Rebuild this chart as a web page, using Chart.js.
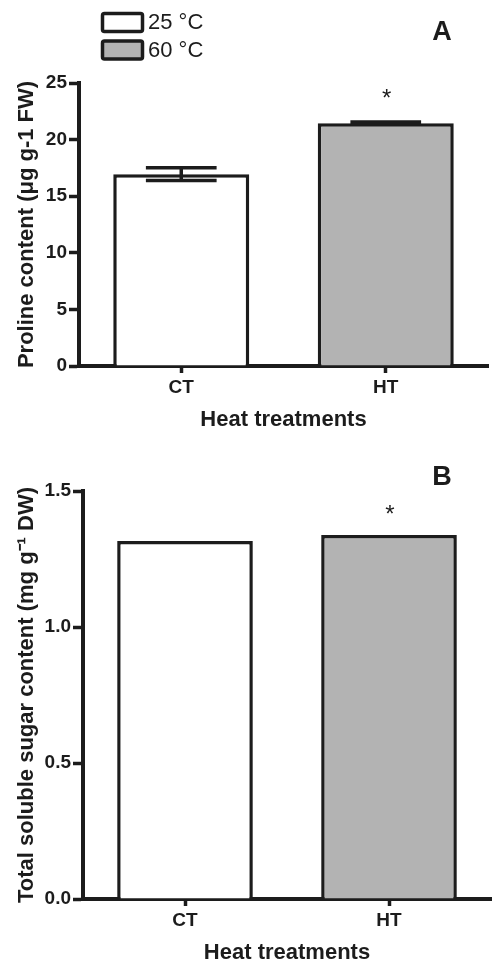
<!DOCTYPE html>
<html>
<head>
<meta charset="utf-8">
<script src="https://cdn.jsdelivr.net/npm/chart.js@4.4.0/dist/chart.umd.min.js"></script>
<style>
  body { margin: 0; background: #fff; }
  canvas { display: block; }
</style>
</head>
<body>
<canvas id="chartA" width="492" height="440"></canvas>
<canvas id="chartB" width="492" height="524"></canvas>
<script>
// Data

const categories = ['CT', 'HT'];
const legendLabels = ['25 °C', '60 °C'];
const panelLetters = ['A', 'B'];
const significance = ['', '*'];

const prolineValues = [16.95, 21.45];
const prolineErrors = [0.57, 0.1];
const prolineTicks = [0, 5, 10, 15, 20, 25];

const sugarValues = [1.316, 1.338];
const sugarErrors = [0, 0];
const sugarTicks = [0, 0.5, 1.0, 1.5];

const xTitle = 'Heat treatments';
const prolineTitle = 'Proline content (μg g-1 FW)';
const sugarTitle = 'Total soluble sugar content (mg g⁻¹ DW)';

// Style

const INK = '#1c1c1c';
const GREY = '#b3b3b3';
const FONT = '"Liberation Sans", Arial, sans-serif';
const barColors = ['#ffffff', GREY];

// Error bars, asterisks, panel letter and legend

const extrasPlugin = {
  id: 'extras',
  afterDatasetsDraw(chart, args, opts) {
    const ctx = chart.ctx;
    const yScale = chart.scales.y;
    const meta = chart.getDatasetMeta(0);
    const values = chart.data.datasets[0].data;
    ctx.save();
    ctx.strokeStyle = INK;
    ctx.fillStyle = INK;
    ctx.lineWidth = 3.5;

    meta.data.forEach((bar, i) => {
      const err = opts.errors[i];
      const top = yScale.getPixelForValue(values[i] + err);
      if (err) {
        const bot = yScale.getPixelForValue(values[i] - err);
        const half = bar.width * 0.26;
        ctx.beginPath();
        ctx.moveTo(bar.x, top);
        ctx.lineTo(bar.x, bot);
        ctx.moveTo(bar.x - half, top);
        ctx.lineTo(bar.x + half, top);
        ctx.moveTo(bar.x - half, bot);
        ctx.lineTo(bar.x + half, bot);
        ctx.stroke();
      }
      if (significance[i]) {
        ctx.font = '24px ' + FONT;
        ctx.textAlign = 'center';
        ctx.textBaseline = 'alphabetic';
        ctx.fillText(significance[i], bar.x + 1, top - opts.sigGap);
      }
    });

    ctx.font = 'bold 27px ' + FONT;
    ctx.textAlign = 'center';
    ctx.textBaseline = 'middle';
    ctx.fillText(opts.letter, opts.letterX, opts.letterY);

    if (opts.legend) {
      ctx.lineWidth = 3.5;
      legendLabels.forEach((label, i) => {
        const y = 12 + i * 27.5;
        ctx.beginPath();
        ctx.roundRect(102.5, y + 1.5, 40, 18, 2);
        ctx.fillStyle = barColors[i];
        ctx.fill();
        ctx.stroke();
        ctx.fillStyle = INK;
        ctx.font = '22px ' + FONT;
        ctx.textAlign = 'left';
        ctx.textBaseline = 'middle';
        ctx.fillText(label, 148, y + 11);
      });
    }
    ctx.restore();
  }
};

const makeChart = (id, values, errors, ticks, yTitle, layout, extras) => {
  const ctx = document.getElementById(id).getContext('2d');
  return new Chart(ctx, {
    type: 'bar',
    data: {
      labels: categories,
      datasets: [{
        data: values,
        backgroundColor: barColors,
        borderColor: INK,
        borderWidth: 3.5,
        borderSkipped: 'start',
        categoryPercentage: 1,
        barPercentage: 0.665,
      }],
    },
    options: {
      responsive: false,
      animation: false,
      events: [],
      layout: { padding: { top: layout.top, right: layout.right, left: 0, bottom: 0 } },
      plugins: {
        legend: { display: false },
        tooltip: { enabled: false },
        extras: Object.assign({ errors: errors }, extras),
      },
      scales: {
        x: {
          afterFit: (s) => { s.height = layout.xHeight; },
          border: { display: true, color: INK, width: 4 },
          grid: { display: true, offset: false, drawOnChartArea: false, drawTicks: true, tickLength: 7, tickWidth: 3.5, tickColor: INK },
          ticks: { color: INK, padding: 3, font: { family: FONT, size: 19, weight: 'bold' } },
          title: {
            display: true, text: xTitle, color: INK,
            font: { family: FONT, size: 22, weight: 'bold', lineHeight: 1 },
            padding: { top: 0, bottom: layout.xTitlePad },
          },
        },
        y: {
          min: ticks[0],
          max: ticks[ticks.length - 1],
          afterBuildTicks: (s) => { s.ticks = ticks.map((v) => ({ value: v })); },
          afterFit: (s) => { s.width = layout.yWidth; },
          border: { display: true, color: INK, width: 4 },
          grid: { display: true, drawOnChartArea: false, drawTicks: true, tickLength: 10, tickWidth: 3.5, tickColor: INK },
          ticks: {
            color: INK, padding: 2,
            font: { family: FONT, size: 19, weight: 'bold' },
            callback: layout.fmt,
          },
          title: {
            display: true, text: yTitle, color: INK,
            font: { family: FONT, size: 22, weight: 'bold', lineHeight: 1 },
            padding: { top: 16, bottom: 0 },
          },
        },
      },
    },
    plugins: [extrasPlugin],
  });
};

makeChart('chartA', prolineValues, prolineErrors, prolineTicks, prolineTitle,
  { top: 83, right: 4, xHeight: 74, yWidth: 79, xTitlePad: 9, fmt: (v) => String(v) },
  { sigGap: 16, letter: panelLetters[0], letterX: 442, letterY: 33, legend: true });

makeChart('chartB', sugarValues, sugarErrors, sugarTicks, sugarTitle,
  { top: 51, right: 1, xHeight: 65, yWidth: 83, xTitlePad: 0, fmt: (v) => v.toFixed(1) },
  { sigGap: 13, letter: panelLetters[1], letterX: 442, letterY: 38, legend: false });
</script>
</body>
</html>
